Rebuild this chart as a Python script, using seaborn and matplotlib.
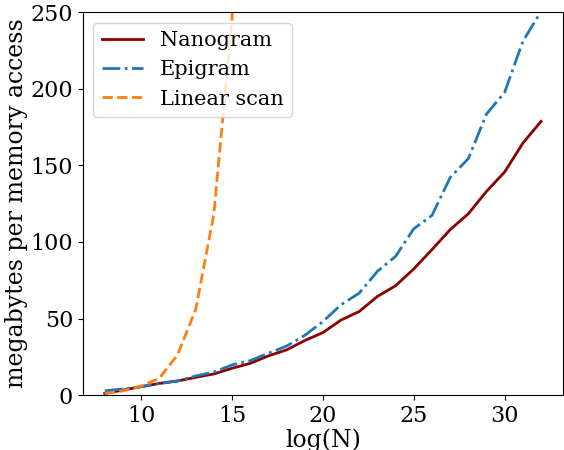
import numpy as np
import pandas as pd
import matplotlib
matplotlib.use('Agg')
import matplotlib.pyplot as plt
import seaborn as sns

#########   Data ###################################
log_n = list(range(8, 33))
nanogram = [1.1, 3.3, 5.5, 7.6, 9.2, 11.6, 13.8, 17.5, 20.7, 25.6, 29.5, 35.6, 40.8,
            49.0, 54.6, 64.4, 71.4, 82.4, 95.0, 108.0, 118.4, 133.0, 145.7, 164.5, 178.7]
epigram = [2.8, 4.0, 5.5, 7.6, 9.2, 12.5, 15.0, 19.7, 22.5, 27.3, 32.0, 39.0, 48.0,
           59.0, 66.6, 80.8, 90.6, 108.6, 117.3, 142.0, 154.4, 183.5, 197.7, 231.0, 250.5]
linear_n = list(range(8, 17))
linear_scan = [1.1, 2.8, 5.9, 10.9, 26.2, 55.7, 118.0, 245.0, 500.0]

series = [('Nanogram', log_n, nanogram, '#8b0000', '-'),
          ('Epigram', log_n, epigram, '#1f77b4', '-.'),
          ('Linear scan', linear_n, linear_scan, '#ff7f0e', '--')]

plt.rcParams['font.family'] = ['DejaVu Serif']
fsize = 16   # ticks
fsize_leg = 15
fsize2 = 17  # axis labels

fig = plt.figure(figsize=(5.64, 4.5), dpi=100)
ax = fig.add_axes([0.147, 0.122, 0.851, 0.851])

for name, xs, ys, col, ls in series:
    df = pd.DataFrame({'x': xs, 'y': ys})
    sns.lineplot(data=df, x='x', y='y', ax=ax, color=col, linestyle=ls, linewidth=2, label=name)

ax.set_ylim(0, 250)
ax.set_xticks([10, 15, 20, 25, 30])
ax.set_yticks([0, 50, 100, 150, 200, 250])
ax.tick_params(labelsize=fsize)
ax.set_xlabel('log(N)', fontsize=fsize2, labelpad=1)
ax.set_ylabel('megabytes per memory access', fontsize=fsize2, labelpad=2)
ax.legend(loc='upper left', fontsize=fsize_leg)

plt.savefig('out.png', dpi=100)
